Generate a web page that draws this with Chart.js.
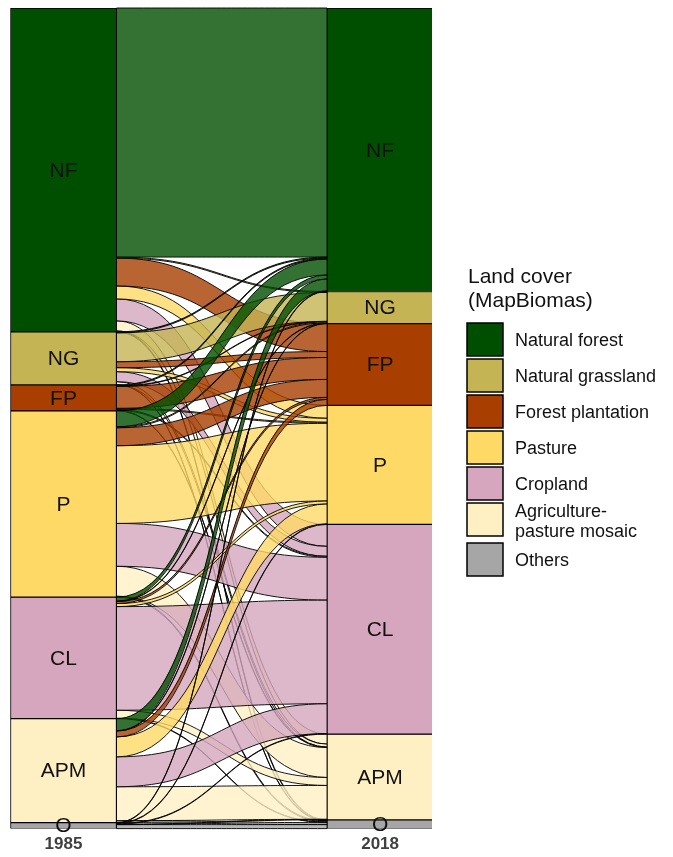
<!DOCTYPE html>
<html>
<head>
<meta charset="utf-8">
<script src="https://cdn.jsdelivr.net/npm/chart.js@4.4.0/dist/chart.umd.min.js"></script>
<style>
  html, body { margin: 0; padding: 0; background: #fff; overflow: hidden; }
  #wrap { width: 673px; height: 857px; position: relative; }
</style>
</head>
<body>
<div id="wrap"><canvas id="alluvial"></canvas></div>
<script>
var years = ['1985', '2018'];
var classes = ['NF', 'NG', 'FP', 'P', 'CL', 'APM', 'O'];
var classNames = ['Natural forest', 'Natural grassland', 'Forest plantation', 'Pasture', 'Cropland', 'Agriculture-\npasture mosaic', 'Others'];
var classColors = ['#004f00', '#c4b454', '#a83e00', '#ffd966', '#d5a6bd', '#fff0c4', '#a6a6a6'];

// relative area moving from a 1985 class (one array per row) to each 2018 class (columns, same order as classes)
var fromNF  = [250, 1, 28, 13, 22, 10, 1];
var fromNG  = [1, 29, 6, 4, 10, 3, 0.3];
var fromFP  = [1, 0.5, 22, 1, 1, 0.5, 0];
var fromP   = [16, 1, 18, 78, 43, 30, 1];
var fromCL  = [4, 0.5, 2, 3, 104, 8, 0.5];
var fromAPM = [12, 0.3, 6, 20, 30, 34, 2];
var fromO   = [0.5, 0, 0, 0.5, 0.5, 0.5, 4];
var flows = [fromNF, fromNG, fromFP, fromP, fromCL, fromAPM, fromO];

var FONT = "'Liberation Sans', Arial, sans-serif";

// stratum sizes come from the flow table
var area1985 = flows.map(function (row) {
    return row.reduce(function (a, b) { return a + b; }, 0);
});
var area2018 = classes.map(function (c, j) {
    return flows.reduce(function (a, row) { return a + row[j]; }, 0);
});
var total = area1985.reduce(function (a, b) { return a + b; }, 0);

function rgba(hex, a) {
    var n = parseInt(hex.slice(1), 16);
    return 'rgba(' + (n >> 16) + ',' + ((n >> 8) & 255) + ',' + (n & 255) + ',' + a + ')';
}

var datasets = classes.map(function (c, k) {
    return {
        label: classNames[k],
        data: [{x: 0, y: area1985[k]}, {x: 1, y: area2018[k]}],
        backgroundColor: classColors[k],
        borderColor: '#000',
        borderWidth: 1,
        borderSkipped: false,
        barThickness: 106
    };
});

// alluvia between the two bars, placed with the chart's own y scale
var flowPlugin = {
    id: 'flows',
    beforeDatasetsDraw: function (chart) {
        var ctx = chart.ctx, y = chart.scales.y;
        var barL = chart.getDatasetMeta(0).data[0];
        var barR = chart.getDatasetMeta(0).data[1];
        var x0 = barL.x + barL.width / 2, x1 = barR.x - barR.width / 2;
        var n = classes.length, i, j;
        var posL = [], posR = [];
        var accL = 0;
        for (i = 0; i < n; i++) {
            posL.push([]);
            posR.push([]);
            var a = accL;
            for (j = 0; j < n; j++) { posL[i][j] = a; a += flows[i][j]; }
            accL += area1985[i];
        }
        var accR = 0;
        for (j = 0; j < n; j++) {
            var b = accR;
            for (i = 0; i < n; i++) { posR[i][j] = b; b += flows[i][j]; }
            accR += area2018[j];
        }
        var c0 = x0 + (x1 - x0) * 0.5, c1 = x1 - (x1 - x0) * 0.5;
        ctx.save();
        // flows into the lower classes first, so the ones rising to forest end on top
        for (j = n - 1; j >= 0; j--) {
            for (i = 0; i < n; i++) {
                var v = flows[i][j];
                if (v <= 0) continue;
                var ya = y.getPixelForValue(posL[i][j]), yb = y.getPixelForValue(posL[i][j] + v);
                var yc = y.getPixelForValue(posR[i][j]), yd = y.getPixelForValue(posR[i][j] + v);
                ctx.beginPath();
                ctx.moveTo(x0, ya);
                ctx.bezierCurveTo(c0, ya, c1, yc, x1, yc);
                ctx.lineTo(x1, yd);
                ctx.bezierCurveTo(c1, yd, c0, yb, x0, yb);
                ctx.closePath();
                ctx.fillStyle = rgba(classColors[j], 0.8);
                ctx.fill();
                ctx.strokeStyle = 'rgba(0,0,0,0.9)';
                ctx.lineWidth = 1;
                ctx.stroke();
            }
        }
        ctx.restore();
    }
};

// class codes in the middle of each stratum
var stratumLabels = {
    id: 'stratumLabels',
    afterDatasetsDraw: function (chart) {
        var ctx = chart.ctx;
        ctx.save();
        ctx.font = '21px ' + FONT;
        ctx.fillStyle = '#111';
        ctx.textAlign = 'center';
        ctx.textBaseline = 'middle';
        chart.data.datasets.forEach(function (ds, k) {
            chart.getDatasetMeta(k).data.forEach(function (bar) {
                ctx.fillText(classes[k], bar.x, (bar.y + bar.base) / 2 + 1);
            });
        });
        ctx.restore();
    }
};

var sideLegend = {
    id: 'sideLegend',
    afterDraw: function (chart) {
        var ctx = chart.ctx;
        var lx = 467, ty = 323;
        ctx.save();
        ctx.fillStyle = '#111';
        ctx.textBaseline = 'middle';
        ctx.textAlign = 'left';
        ctx.font = '21px ' + FONT;
        ctx.fillText('Land cover', lx + 1, 277);
        ctx.fillText('(MapBiomas)', lx + 1, 301);
        ctx.font = '18px ' + FONT;
        classNames.forEach(function (name, k) {
            var lines = name.split('\n');
            ctx.fillStyle = classColors[k];
            ctx.fillRect(lx, ty, 36, 33);
            ctx.strokeStyle = '#000';
            ctx.lineWidth = 1.5;
            ctx.strokeRect(lx, ty, 36, 33);
            ctx.fillStyle = '#111';
            var cy = ty + 17;
            if (lines.length > 1) {
                ctx.fillText(lines[0], lx + 48, cy - 8);
                ctx.fillText(lines[1], lx + 48, cy + 12);
                ty += 40;
            } else {
                ctx.fillText(lines[0], lx + 48, cy + 1);
                ty += 36;
            }
        });
        ctx.restore();
    }
};

new Chart(document.getElementById('alluvial'), {
    type: 'bar',
    data: {datasets: datasets},
    options: {
        responsive: true,
        maintainAspectRatio: false,
        animation: false,
        layout: {padding: {left: 10, right: 241, top: 8, bottom: -4}},
        plugins: {legend: {display: false}, tooltip: {enabled: false}},
        scales: {
            x: {
                type: 'linear',
                stacked: true,
                offset: false,
                min: -0.169,
                max: 1.164,
                grid: {display: false, drawTicks: false, offset: false},
                border: {display: false},
                afterBuildTicks: function (scale) {
                    scale.ticks = [{value: 0}, {value: 1}];
                },
                ticks: {
                    padding: 6,
                    color: '#404040',
                    font: {family: FONT, size: 17, weight: 'bold'},
                    callback: function (v) { return years[v]; }
                }
            },
            y: {
                type: 'linear',
                stacked: true,
                reverse: true,
                min: 0,
                max: total,
                display: false
            }
        }
    },
    plugins: [flowPlugin, stratumLabels, sideLegend]
});
</script>
</body>
</html>
